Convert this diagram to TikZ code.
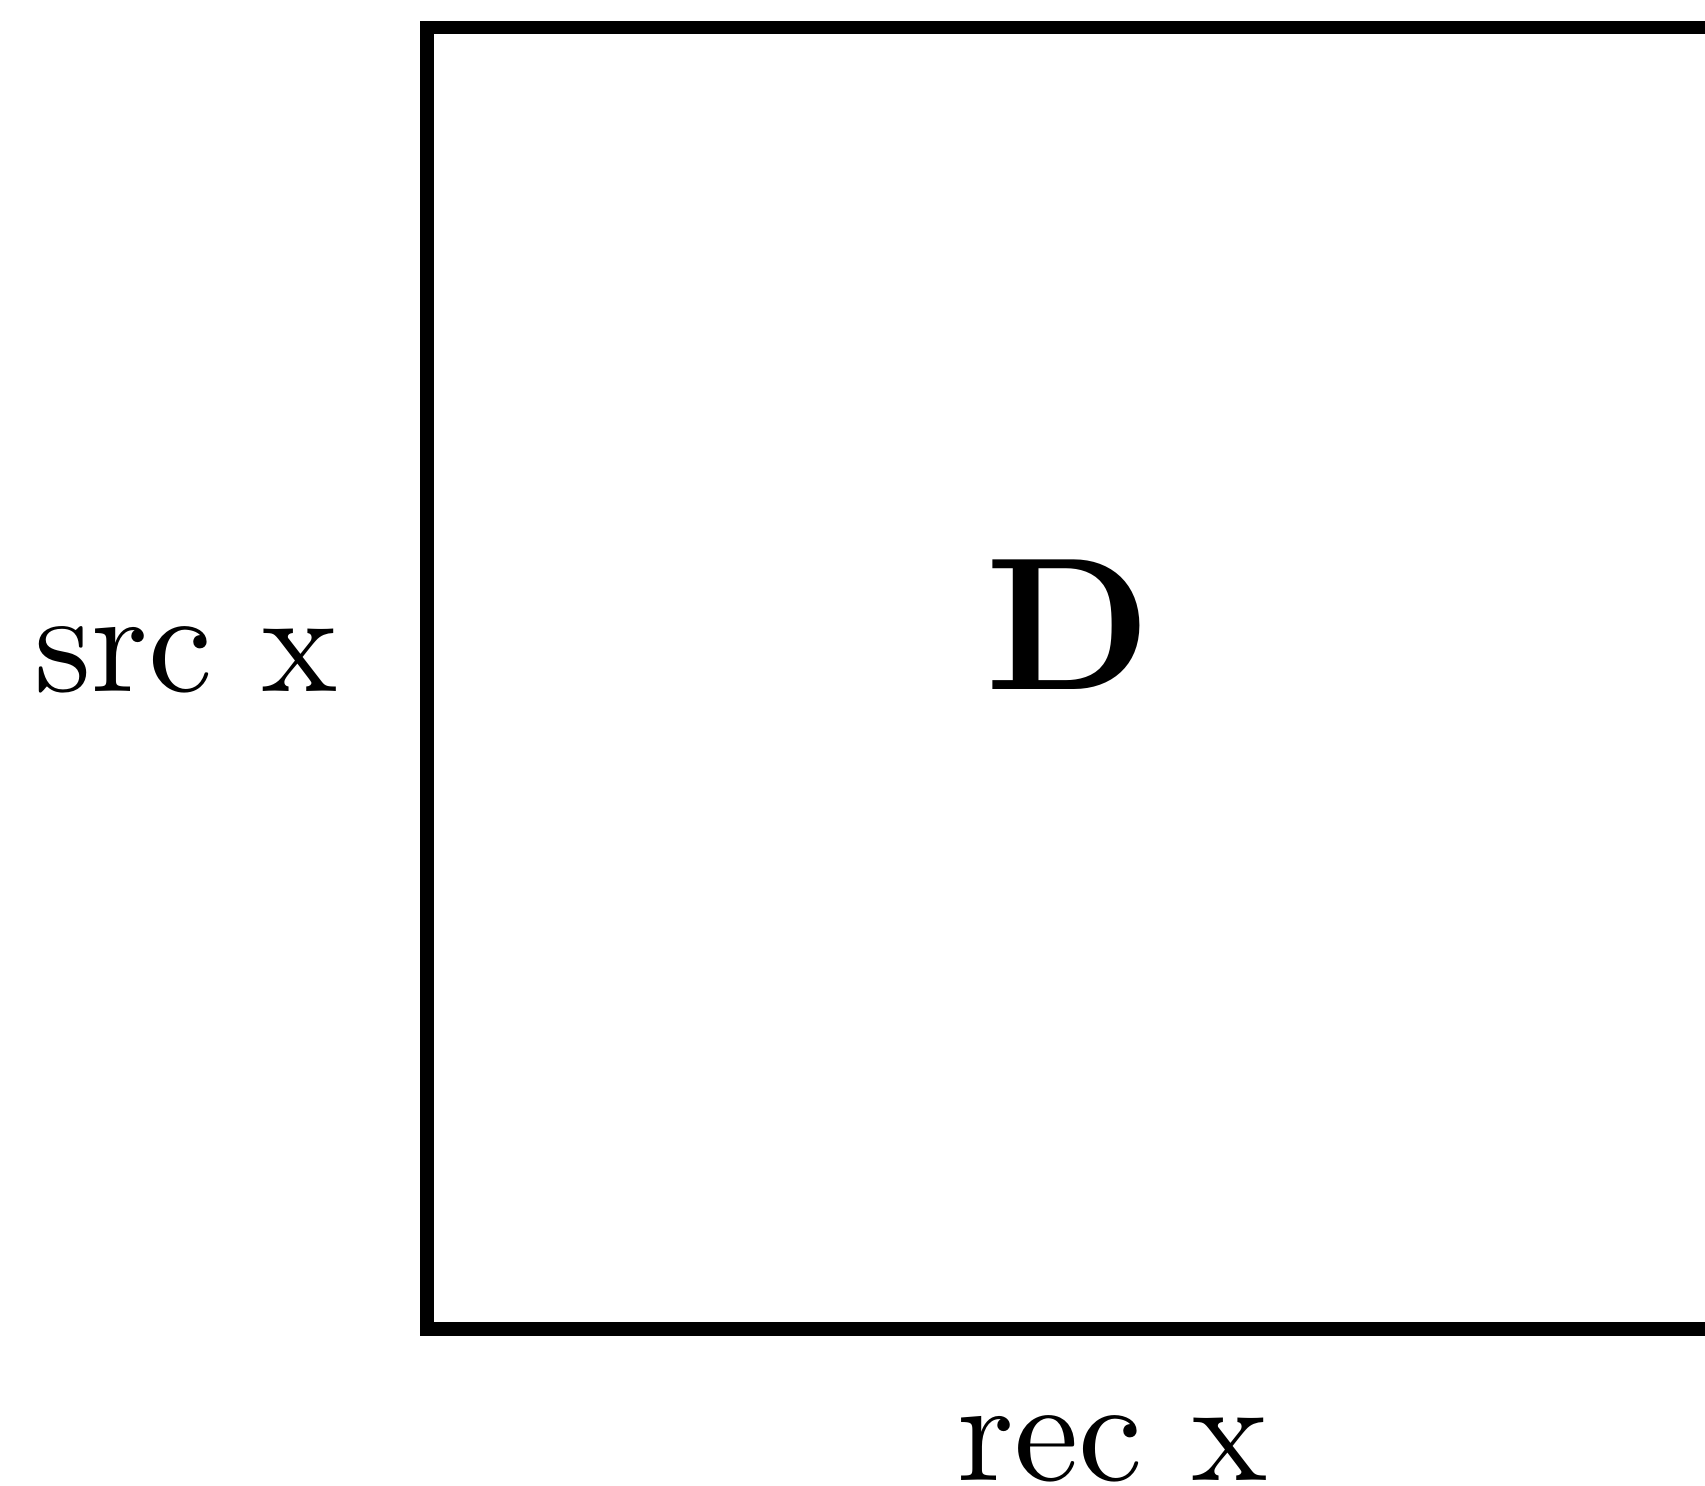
\documentclass[tikz,border=0pt]{standalone}
\usepackage{graphicx}
\begin{document}
\begin{tikzpicture}[x=0.5pt,y=-0.5pt,
  lbl/.style={inner sep=0pt,anchor=base west},
  frame/.style={draw=black,line width=6.85pt}]
\useasboundingbox (0,0) rectangle (1705,1486);
\draw[frame] (427,27.5) rectangle (1712,1329);
\node[lbl] (src) at (34,692) {\scalebox{7.25}{src x}};
\node[lbl] (D) at (985,690) {\scalebox{9.45}{\bfseries D}};
\node[lbl] (rec) at (957,1480) {\scalebox{7.25}{rec x}};
\end{tikzpicture}
\end{document}
